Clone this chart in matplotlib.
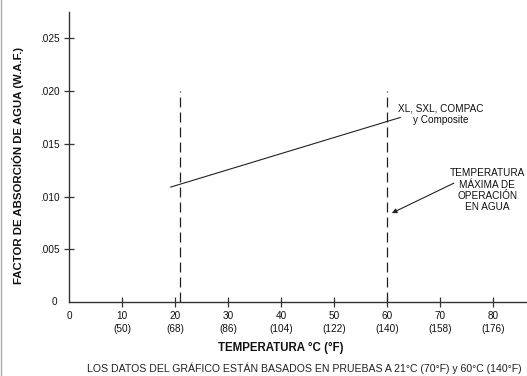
import matplotlib.pyplot as plt
from matplotlib.patches import FancyBboxPatch

plt.rcParams['font.family'] = ['Liberation Sans', 'DejaVu Sans']

# water absorption factor line (deg C, W.A.F.)
temp_c = [19.2, 62.5]
waf = [0.0109, 0.0175]

# test temperatures (dashed markers)
test_temps = [21, 60]
test_top = 0.020

xticks = [10, 20, 30, 40, 50, 60, 70, 80]
xtick_f = ['50', '68', '86', '104', '122', '140', '158', '176']
yticks = [0.005, 0.010, 0.015, 0.020, 0.025]
ytick_labels = ['.005', '.010', '.015', '.020', '.025']

fig = plt.figure(figsize=(5.27, 3.76), dpi=100)
ax = fig.add_axes([69/527, 74/376, 1 - 69/527, 290/376])

ink = '#222222'
ax.plot(temp_c, waf, color=ink, lw=0.8)
for t in test_temps:
    ax.plot([t, t], [0, test_top], color=ink, lw=0.9, dashes=(8, 4))

ax.set_xlim(0, 86.4)
ax.set_ylim(0, 0.0275)
for s in ['top', 'right']:
    ax.spines[s].set_visible(False)
for s in ['left', 'bottom']:
    ax.spines[s].set_color('#333333')
    ax.spines[s].set_linewidth(1.0)

fs = 7.2
ax.set_xticks(xticks)
ax.set_xticklabels([f'{c}\n({f})' for c, f in zip(xticks, xtick_f)],
                   fontsize=fs, linespacing=1.4)
ax.set_yticks(yticks)
ax.set_yticklabels(ytick_labels, fontsize=fs)
ax.tick_params(direction='inout', length=7, width=0.9, colors='#333333',
               labelcolor='#111111', pad=3)

# zero labels at the origin
ax.text(0, -0.0009, '0', ha='center', va='top', fontsize=fs, color='#111111')
ax.text(-2.2, 0, '0', ha='right', va='center', fontsize=fs, color='#111111')

ax.text(70.2, 0.0178, 'XL, SXL, COMPAC\ny Composite', ha='center', va='center',
        fontsize=fs, linespacing=1.1, color='#111111')

ax.text(78.9, 0.0106, 'TEMPERATURA\nMÁXIMA DE\nOPERACIÓN\nEN AGUA',
        ha='center', va='center', fontsize=fs, linespacing=1.15,
        color='#111111', clip_on=False)
ax.annotate('', xy=(60.9, 0.00843), xytext=(72.6, 0.01127),
            arrowprops=dict(arrowstyle='-|>', color=ink, lw=0.8,
                            mutation_scale=7, shrinkA=0, shrinkB=0))

fig.text(18/527, 1 - 165/376, 'FACTOR DE ABSORCIÓN DE AGUA (W.A.F.)',
         rotation=90, ha='center', va='center', fontsize=8.2,
         fontweight='bold', color='#111111')
fig.text(281/527, 1 - 348/376, 'TEMPERATURA °C (°F)', ha='center',
         va='center', fontsize=8.3, fontweight='bold', color='#111111')
fig.text(304/527, 1 - 368/376,
         'LOS DATOS DEL GRÁFICO ESTÁN BASADOS EN PRUEBAS A 21°C (70°F) y 60°C (140°F)',
         ha='center', va='center', fontsize=7.6, color='#222222')

# frame edge on the left
frame = FancyBboxPatch((1.5/527, -0.05), 1.2, 1.1,
                       boxstyle='round,pad=0,rounding_size=0.02',
                       transform=fig.transFigure, fill=False,
                       edgecolor='#aaaaaa', lw=1.0)
fig.patches.append(frame)

fig.savefig('out.png', dpi=100)
